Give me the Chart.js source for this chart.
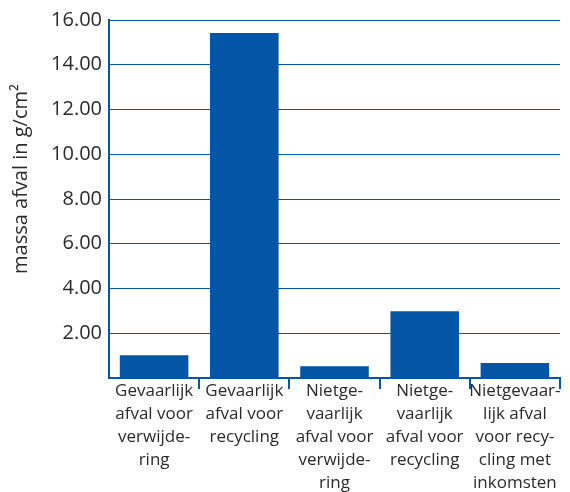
<!DOCTYPE html>
<html>
<head>
<meta charset="utf-8">
<script src="https://cdn.jsdelivr.net/npm/chart.js@4"></script>
<style>
  html, body { margin: 0; padding: 0; background: #fff; }
  #wrap { width: 570px; height: 492px; }
</style>
</head>
<body>
<div id="wrap"><canvas id="c" width="570" height="492"></canvas></div>
<script>
// ── data ─────────────────────────────────────────────────────────
const categories = [
  ['Gevaarlijk', 'afval voor', 'verwijde-', 'ring'],
  ['Gevaarlijk', 'afval voor', 'recycling'],
  ['Nietge-', 'vaarlijk', 'afval voor', 'verwijde-', 'ring'],
  ['Nietge-', 'vaarlijk', 'afval voor', 'recycling'],
  ['Nietgevaar-', 'lijk afval', 'voor recy-', 'cling met', 'inkomsten'],
];
const massa = [1.02, 15.42, 0.52, 2.98, 0.67];
const yTitle = 'massa afval in g/cm\u00b2';

const BLUE = '#0455a6';
const TXT  = '#2b2b2b';
const FONT = "'Open Sans', 'Noto Sans', sans-serif";

// y-axis title, drawn a bit above the plot centre like the original
const yTitlePlugin = {
  id: 'yTitle',
  afterDraw(chart) {
    const { ctx } = chart;
    ctx.save();
    ctx.translate(21, 179);
    ctx.rotate(-Math.PI / 2);
    ctx.fillStyle = TXT;
    ctx.font = `20px ${FONT}`;
    ctx.textAlign = 'center';
    ctx.textBaseline = 'middle';
    ctx.fillText(yTitle, 0, 0);
    ctx.restore();
  },
};

new Chart(document.getElementById('c'), {
  type: 'bar',
  data: {
    labels: categories,
    datasets: [{
      data: massa,
      backgroundColor: BLUE,
      borderWidth: 0,
      categoryPercentage: 1,
      barPercentage: 0.76,
    }],
  },
  options: {
    responsive: false,
    animation: false,
    layout: { padding: { top: 20, right: 10, left: 0, bottom: 0 } },
    plugins: { legend: { display: false }, tooltip: { enabled: false } },
    scales: {
      x: {
        border: { color: BLUE, width: 2 },
        grid: {
          offset: true,
          drawOnChartArea: false,
          tickLength: 11,
          color: ctx => (ctx.index === 0 || ctx.index === categories.length) ? 'rgba(0,0,0,0)' : BLUE,
          lineWidth: 2,
        },
        ticks: {
          color: TXT,
          font: { family: FONT, size: 17, lineHeight: 1.35 },
          padding: -9,
          maxRotation: 0,
          autoSkip: false,
        },
        afterFit: s => { s.height = 114; },
      },
      y: {
        min: 0, max: 16,
        border: { color: BLUE, width: 2 },
        grid: { color: BLUE, lineWidth: 1, drawTicks: false },
        ticks: {
          stepSize: 2,
          color: TXT,
          padding: 7,
          font: { family: FONT, size: 20 },
          callback: v => v === 0 ? '' : v.toFixed(2),
        },
        afterFit: s => { s.width = 109; },
      },
    },
  },
  plugins: [yTitlePlugin],
});
</script>
</body>
</html>
